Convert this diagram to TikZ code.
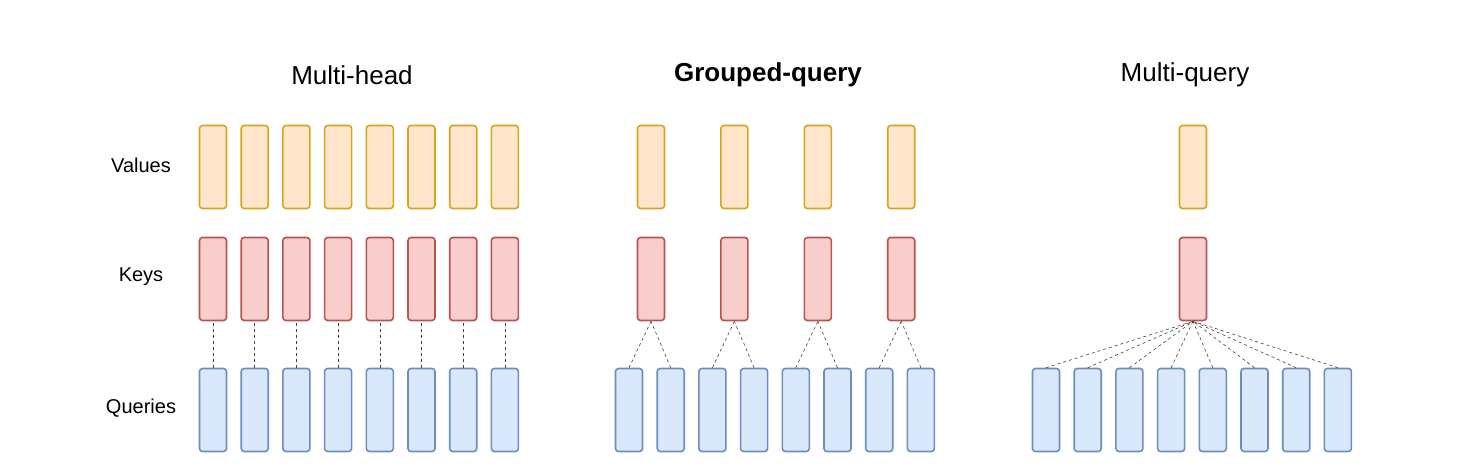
\documentclass[tikz,border=0pt]{standalone}
\usepackage{fontspec}
\setmainfont{Liberation Sans}
\definecolor{valfill}{HTML}{FFE6CC}
\definecolor{valline}{HTML}{D6A520}
\definecolor{keyfill}{HTML}{F8CECC}
\definecolor{keyline}{HTML}{B85450}
\definecolor{qryfill}{HTML}{DAE8FC}
\definecolor{qryline}{HTML}{6C8EBF}
\begin{document}
\begin{tikzpicture}[x=1pt,y=-1pt]
% styles
\tikzset{
  vec/.style={rectangle,rounded corners=3pt,line width=1.6pt,minimum width=27pt,minimum height=83pt,inner sep=0pt},
  valbox/.style={vec,draw=valline,fill=valfill},
  keybox/.style={vec,draw=keyline,fill=keyfill},
  qrybox/.style={vec,draw=qryline,fill=qryfill},
  link/.style={dashed,draw=black!75,line width=0.6pt},
  titre/.style={font=\fontsize{26}{30}\selectfont},
  legende/.style={font=\fontsize{20}{24}\selectfont}
}
\useasboundingbox (0,0) rectangle (1478,470);
% titles and row labels
\node[titre] (tMH) at (352,75) {Multi-head};
\node[titre,font=\fontsize{26}{30}\selectfont\bfseries] (tGQ) at (768,75) {Grouped-query};
\node[titre] (tMQ) at (1185,75) {Multi-query};
\node[legende] (lV) at (141,165) {Values};
\node[legende] (lK) at (141,277) {Keys};
\node[legende] (lQ) at (141,408) {Queries};
% multi-head
\foreach \i in {0,...,7}{
  \node[valbox] (mhv\i) at (213+41.7*\i,167) {};
  \node[keybox] (mhk\i) at (213+41.7*\i,279) {};
  \node[qrybox] (mhq\i) at (213+41.7*\i,410) {};
  \draw[link] (mhq\i.north) -- (mhk\i.south);
}
% grouped-query
\foreach \g in {0,...,3}{
  \node[valbox] (gqv\g) at (651+83.4*\g,167) {};
  \node[keybox] (gqk\g) at (651+83.4*\g,279) {};
}
\foreach \i in {0,...,7}{
  \pgfmathtruncatemacro{\g}{int(\i/2)}
  \node[qrybox] (gqq\i) at (629+41.7*\i,410) {};
  \draw[link] (gqq\i.north) -- (gqk\g.south);
}
% multi-query
\node[valbox] (mqv) at (1193,167) {};
\node[keybox] (mqk) at (1193,279) {};
\foreach \i in {0,...,7}{
  \node[qrybox] (mqq\i) at (1046+41.7*\i,410) {};
  \draw[link] (mqq\i.north) -- (mqk.south);
}
\end{tikzpicture}
\end{document}
